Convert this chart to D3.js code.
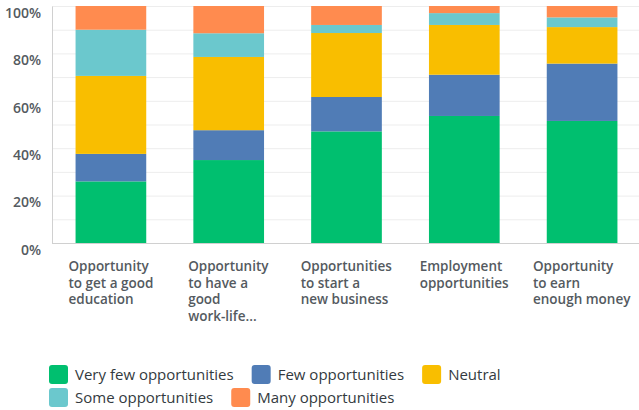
<!DOCTYPE html>
<html>
<head>
<meta charset="utf-8">
<script src="https://cdn.jsdelivr.net/npm/d3@7"></script>
<style>
  html, body { margin: 0; padding: 0; background: #fff; }
  svg { display: block; font-family: "Open Sans", Roboto, sans-serif; }
</style>
</head>
<body>
<svg id="chart" width="639" height="410"></svg>
<script>
// Survey questions (x categories), each split across five answer groups (percent)
const categories = [
  ["Opportunity", "to get a good", "education"],
  ["Opportunity", "to have a", "good", "work-life..."],
  ["Opportunities", "to start a", "new business"],
  ["Employment", "opportunities"],
  ["Opportunity", "to earn", "enough money"]
];
const seriesNames = ["Very few opportunities", "Few opportunities", "Neutral", "Some opportunities", "Many opportunities"];
const veryFew = [26.0, 35.0, 47.1, 53.6, 51.5];
const few     = [11.6, 12.6, 14.5, 17.4, 24.2];
const neutral = [32.9, 30.9, 27.0, 21.0, 15.4];
const some    = [19.5, 10.0, 3.4, 5.0, 4.1];
const many    = [10.0, 11.5, 8.0, 3.0, 4.8];
const colors  = ["#00BF6F", "#507CB6", "#F9BE00", "#6BC8CD", "#FF8B4F"];
const yTicks  = [0, 20, 40, 60, 80, 100];

const rows = categories.map((c, i) => ({
  key: i,
  "Very few opportunities": veryFew[i],
  "Few opportunities": few[i],
  "Neutral": neutral[i],
  "Some opportunities": some[i],
  "Many opportunities": many[i]
}));

const svg = d3.select("#chart");
const plotLeft = 52, plotRight = 641, plotTop = 6, plotBottom = 243;

const x = d3.scaleBand().domain(d3.range(categories.length))
  .range([plotLeft, plotRight]).paddingInner(0.4).paddingOuter(0.2);
const y = d3.scaleLinear().domain([0, 100]).range([plotBottom, plotTop]);
const color = d3.scaleOrdinal().domain(seriesNames).range(colors);

// light horizontal grid every 10%
svg.append("g")
  .selectAll("line")
  .data(d3.range(10, 101, 10))
  .join("line")
  .attr("x1", plotLeft).attr("x2", 639)
  .attr("y1", d => y(d) + 0.5).attr("y2", d => y(d) + 0.5)
  .attr("stroke", "#ededed").attr("stroke-width", 1);

// stacked bars
const stacked = d3.stack().keys(seriesNames)(rows);
svg.append("g")
  .selectAll("g")
  .data(stacked)
  .join("g")
  .attr("fill", d => color(d.key))
  .selectAll("rect")
  .data(d => d)
  .join("rect")
  .attr("x", d => x(d.data.key))
  .attr("width", x.bandwidth())
  .attr("y", d => y(d[1]))
  .attr("height", d => y(d[0]) - y(d[1]));

// y axis
const yAxis = svg.append("g")
  .attr("transform", `translate(${plotLeft},0)`)
  .call(d3.axisLeft(y).tickValues(yTicks).tickFormat(d => d + "%").tickSize(0).tickPadding(11));
yAxis.select(".domain").attr("stroke", "#d0d0d0");
yAxis.selectAll("text")
  .attr("dy", "0.8em")
  .attr("fill", "#545a60")
  .style("font-size", "14px")
  .style("font-weight", "600")
  .style("font-family", "'Open Sans', sans-serif");

// baseline
svg.append("line")
  .attr("x1", plotLeft).attr("x2", 639)
  .attr("y1", plotBottom + 0.5).attr("y2", plotBottom + 0.5)
  .attr("stroke", "#d0d0d0");

// x labels: multi-line blocks centred under each bar, lines left-aligned
const labelG = svg.append("g");
categories.forEach((lines, i) => {
  const g = labelG.append("g");
  const t = g.append("text")
    .attr("fill", "#545a60")
    .style("font-size", "13.5px")
    .style("font-weight", "600");
  lines.forEach((ln, j) => {
    t.append("tspan").attr("x", 0).attr("y", 271 + j * 16.7).text(ln);
  });
  const w = t.node().getBBox().width;
  g.attr("transform", `translate(${x(i) + x.bandwidth() / 2 - w / 2},0)`);
});

// legend (flow layout, wraps to a second row)
const legend = svg.append("g");
let lx = 49, ly = 365;
seriesNames.forEach((name, i) => {
  const g = legend.append("g");
  g.append("rect")
    .attr("width", 19).attr("height", 19).attr("rx", 3)
    .attr("fill", colors[i]);
  const t = g.append("text")
    .attr("x", 26).attr("y", 15)
    .attr("fill", "#333a40")
    .style("font-size", "15px")
    .style("font-weight", "500")
    .text(name);
  const w = t.node().getComputedTextLength();
  if (lx + 26 + w > 639 && lx > 49) { lx = 49; ly += 23; }
  g.attr("transform", `translate(${lx},${ly})`);
  lx += 26 + w + 18;
});
</script>
</body>
</html>
